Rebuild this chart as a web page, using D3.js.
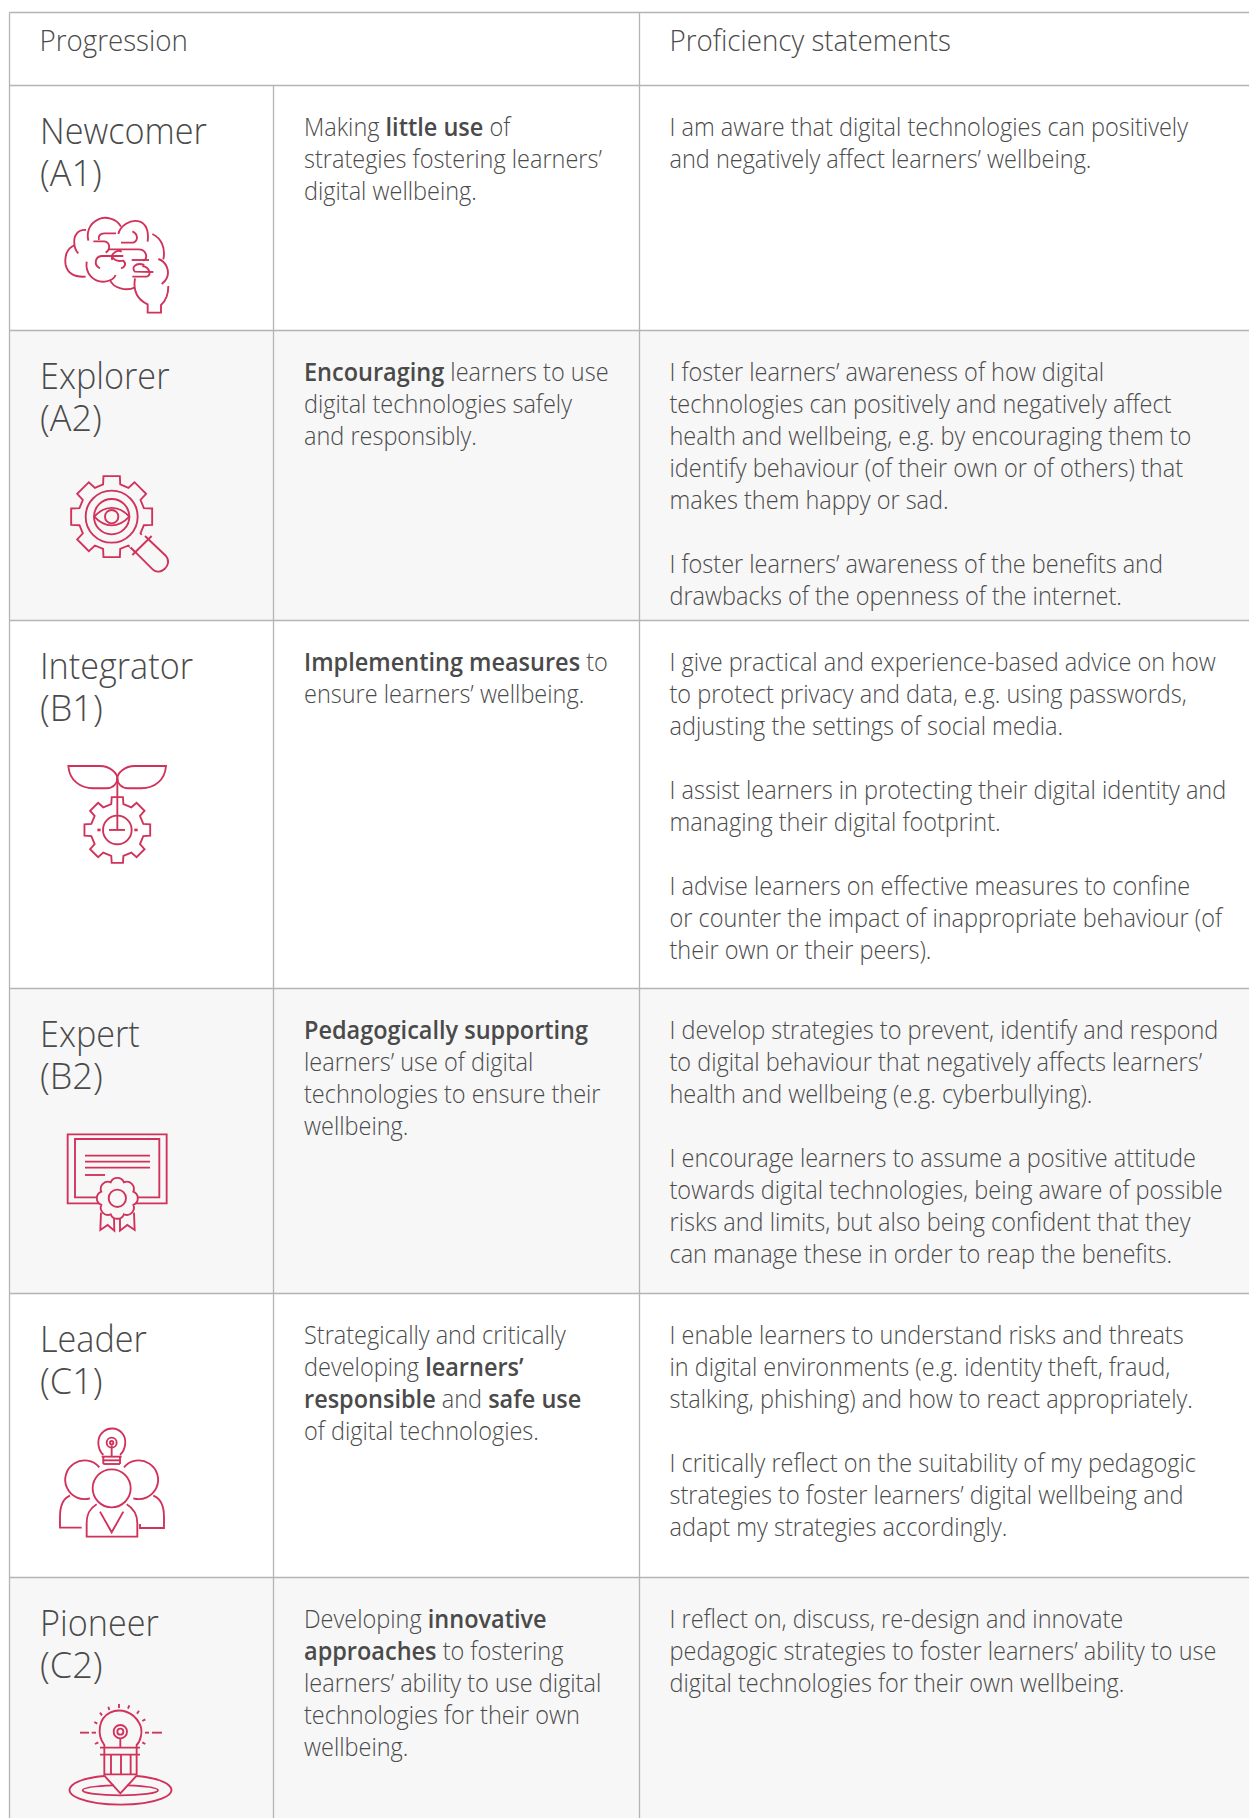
<!DOCTYPE html>
<html>
<head>
<meta charset="utf-8">
<script src="https://cdn.jsdelivr.net/npm/d3@7"></script>
<style>
  html, body { margin: 0; padding: 0; background: #fff; }
  svg { display: block; }
  text { font-family: "Open Sans", sans-serif; fill: #4a4a4a; }
  .icon * { fill: none; stroke: #d0325a; stroke-width: 5.6; }
</style>
</head>
<body>
<script>
// table content
const headers = ["Progression", "Proficiency statements"];
const levels = ["Newcomer", "Explorer", "Integrator", "Expert", "Leader", "Pioneer"];
const codes = ["(A1)", "(A2)", "(B1)", "(B2)", "(C1)", "(C2)"];
const descriptions = [
    ["Making **little use** of", "strategies fostering learners’", "digital wellbeing."],
    ["**Encouraging** learners to use", "digital technologies safely", "and responsibly."],
    ["**Implementing measures** to", "ensure learners’ wellbeing."],
    ["**Pedagogically supporting**", "learners’ use of digital", "technologies to ensure their", "wellbeing."],
    ["Strategically and critically", "developing **learners’**", "**responsible** and **safe use**", "of digital technologies."],
    ["Developing **innovative**", "**approaches** to fostering", "learners’ ability to use digital", "technologies for their own", "wellbeing."]
];
const statements = [
    ["I am aware that digital technologies can positively", "and negatively affect learners’ wellbeing."],
    ["I foster learners’ awareness of how digital", "technologies can positively and negatively affect", "health and wellbeing, e.g. by encouraging them to", "identify behaviour (of their own or of others) that", "makes them happy or sad.", "", "I foster learners’ awareness of the benefits and", "drawbacks of the openness of the internet."],
    ["I give practical and experience-based advice on how", "to protect privacy and data, e.g. using passwords,", "adjusting the settings of social media.", "", "I assist learners in protecting their digital identity and", "managing their digital footprint.", "", "I advise learners on effective measures to confine", "or counter the impact of inappropriate behaviour (of", "their own or their peers)."],
    ["I develop strategies to prevent, identify and respond", "to digital behaviour that negatively affects learners’", "health and wellbeing (e.g. cyberbullying).", "", "I encourage learners to assume a positive attitude", "towards digital technologies, being aware of possible", "risks and limits, but also being confident that they", "can manage these in order to reap the benefits."],
    ["I enable learners to understand risks and threats", "in digital environments (e.g. identity theft, fraud,", "stalking, phishing) and how to react appropriately.", "", "I critically reflect on the suitability of my pedagogic", "strategies to foster learners’ digital wellbeing and", "adapt my strategies accordingly."],
    ["I reflect on, discuss, re-design and innovate", "pedagogic strategies to foster learners’ ability to use", "digital technologies for their own wellbeing."]
];

// layout
const width = 1249, height = 1818;
const tableTop = 12.5, headerBottom = 85.5;
const rowTops = [85.5, 330.5, 620.5, 988.5, 1293.5, 1577.5];
const colLeft = 9.5, colMid = 273.5, colRight = 639.5;
const bodySize = 25, bodyLine = 32, bodySqueeze = 0.94;
const headSize = 29.5;
const nameSize = 36, nameLine = 42, nameSqueeze = 0.95;
const lineColor = "#b4b4b4", shade = "#f7f7f7";

const svg = d3.select("body").append("svg").attr("width", width).attr("height", height);
const rowY = d3.scaleOrdinal(levels, rowTops);

// shaded rows
svg.selectAll(".band")
    .data(levels.filter((d, i) => i % 2 == 1))
    .enter()
    .append("rect")
    .attr("class", "band")
    .attr("x", colLeft)
    .attr("y", d => rowY(d))
    .attr("width", width - colLeft)
    .attr("height", d => {
        const next = rowTops[levels.indexOf(d) + 1];
        return (next || height) - rowY(d);
    })
    .attr("fill", shade);

// grid lines
const hLines = [tableTop, headerBottom].concat(rowTops.slice(1));
svg.selectAll(".hline")
    .data(hLines)
    .enter()
    .append("line")
    .attr("class", "hline")
    .attr("x1", colLeft)
    .attr("x2", width)
    .attr("y1", d => d)
    .attr("y2", d => d)
    .attr("stroke", lineColor)
    .attr("stroke-width", 1.3);

const vLines = [[colLeft, tableTop], [colMid, headerBottom], [colRight, tableTop]];
svg.selectAll(".vline")
    .data(vLines)
    .enter()
    .append("line")
    .attr("class", "vline")
    .attr("x1", d => d[0])
    .attr("x2", d => d[0])
    .attr("y1", d => d[1])
    .attr("y2", height)
    .attr("stroke", lineColor)
    .attr("stroke-width", 1.3);

// one line of text, ** marks the bold runs
const writeLine = (parent, str, x, y, size) => {
    const t = parent.append("text")
        .attr("transform", "translate(" + x + "," + y + ") scale(" + bodySqueeze + ",1)")
        .attr("font-size", size || bodySize)
        .attr("font-weight", 300);
    str.split("**").forEach((part, i) => {
        if (part === "") return;
        t.append("tspan")
            .attr("font-weight", i % 2 == 1 ? 600 : 300)
            .text(part);
    });
};

writeLine(svg, headers[0], 39.5, 51, headSize);
writeLine(svg, headers[1], 669.5, 51, headSize);

levels.forEach((level, i) => {
    const top = rowY(level);
    const g = svg.append("g").attr("class", "row");
    g.append("text")
        .attr("transform", "translate(40," + (top + 58) + ") scale(" + nameSqueeze + ",1)")
        .attr("font-size", nameSize).attr("font-weight", 300).text(level);
    g.append("text")
        .attr("transform", "translate(40," + (top + 58 + nameLine) + ")")
        .attr("font-size", nameSize).attr("font-weight", 300).text(codes[i]);
    descriptions[i].forEach((line, j) => writeLine(g, line, 304, top + 50 + j * bodyLine));
    statements[i].forEach((line, j) => {
        if (line) writeLine(g, line, 669.5, top + 50 + j * bodyLine);
    });
});

// icons, each drawn in the 3x units of a crop
const icon = (x, y) => svg.append("g").attr("class", "icon").attr("transform", "translate(" + x + "," + y + ") scale(0.3333)");
const paths = (g, list) => list.forEach(d => g.append("path").attr("d", d));

// toothed wheel outline
const gearPath = (cx, cy, rOut, rIn, n, halfOut, halfIn) => {
    const pts = [];
    d3.range(n).forEach(k => {
        const a = -Math.PI / 2 + k * 2 * Math.PI / n;
        [[rIn, -halfIn], [rOut, -halfOut], [rOut, halfOut], [rIn, halfIn]].forEach(p => {
            pts.push([cx + p[0] * Math.cos(a + p[1]), cy + p[0] * Math.sin(a + p[1])]);
        });
    });
    return "M" + pts.map(p => p[0].toFixed(1) + "," + p[1].toFixed(1)).join("L") + "Z";
};

// flower outline for the rosette
const flowerPath = (cx, cy, r, n) => {
    const pts = d3.range(n).map(k => {
        const a = (k + 0.5) * 2 * Math.PI / n - Math.PI / 2;
        return [cx + r * Math.cos(a), cy + r * Math.sin(a)];
    });
    const pr = r * Math.sin(Math.PI / n) * 1.08;
    return "M" + pts[0].join(",") + pts.slice(1).concat([pts[0]]).map(p => "A" + pr + "," + pr + " 0 0 1 " + p.join(",")).join("") + "Z";
};

// brain
paths(icon(55, 210), [
    "M93 60C70 58 55 75 58 100C58 112 62 122 70 130",
    "M58 106C35 115 28 140 32 165C38 190 60 202 92 200",
    "M100 92C95 70 100 42 130 28C150 18 185 25 198 50",
    "M190 72C195 50 225 25 255 35C272 42 282 60 278 95",
    "M292 72C320 85 332 115 325 148",
    "M310 147C335 155 345 185 335 205C332 212 325 218 320 222",
    "M95 155C90 190 115 218 150 215C165 213 178 205 182 195",
    "M165 210C175 235 215 245 240 232",
    "M240 205C235 235 240 265 278 283L278 308L318 308L318 285C335 270 340 250 340 228",
    "M183 70L148 70C135 70 128 80 132 90",
    "M115 94L148 94C165 96 168 118 152 128",
    "M198 98L235 98C250 92 250 72 232 64",
    "M160 118L250 118C275 118 280 145 265 152",
    "M230 150L282 150",
    "M172 150C165 128 190 118 200 125",
    "M172 140C178 152 190 155 205 152C215 160 210 172 198 175",
    "M135 175C115 165 120 140 140 138L205 138",
    "M268 165C240 155 228 175 240 185L295 186",
    "M232 200L275 200C290 195 285 172 262 168"
]);

// magnifier with eye
const lens = icon(40, 450);
paths(lens, [gearPath(215, 200, 124, 100, 8, 0.2, 0.26)]);
lens.append("path").attr("d", "M268 290L340 360A28 28 0 0 0 385 320L312 248Z").style("fill", shade).style("stroke", "none");
paths(lens, [
    "M272 292L338 358C360 380 400 345 378 318L315 258",
    "M277 315L335 258",
    "M163 200C195 165 235 165 268 200C235 235 195 235 163 200Z"
]);
[[215, 200, 78], [215, 200, 53], [215, 200, 20]].forEach(c => lens.append("circle").attr("cx", c[0]).attr("cy", c[1]).attr("r", c[2]));

// plant on a gear
const plant = icon(40, 450);
paths(plant, [
    "M232 985C232 970 210 948 180 948L85 948C88 990 120 1015 160 1015L200 1015C220 1015 232 1000 232 985Z",
    "M232 985C232 970 254 948 284 948L378 948C375 990 344 1015 304 1015L264 1015C244 1015 232 1000 232 985Z",
    "M232 985L232 1140",
    "M207 1140L255 1140",
    gearPath(232, 1140, 100, 80, 8, 0.17, 0.23)
]);
plant.append("circle").attr("cx", 232).attr("cy", 1140).attr("r", 43);
[177, 288].forEach(x => plant.append("rect").attr("x", x - 5).attr("y", 1136).attr("width", 10).attr("height", 8).style("fill", "#d0325a").style("stroke", "none"));

// certificate
const cert = icon(40, 1110);
paths(cert, [
    "M83 73H380V280H83Z",
    "M105 87H358V262H105Z",
    "M135 137H330", "M135 155H330", "M135 173H330", "M135 195H195",
    "M183 308L181 360L203 345L223 362L222 325",
    "M282 308L284 360L262 345L240 362L240 325"
]);
cert.append("path").attr("d", flowerPath(232, 265, 52, 8)).style("fill", shade);
cert.append("circle").attr("cx", 232).attr("cy", 265).attr("r", 26);

// people with a lightbulb
const people = icon(40, 1410);
paths(people, [
    "M190 135C170 115 170 80 190 65C205 52 230 52 245 68C262 85 258 118 240 135",
    "M185 140H245", "M188 151H243", "M190 162H240", "M190 140V162", "M240 140V162",
    "M215 106V140",
    "M178 172A58 58 0 1 0 150 265",
    "M252 172A58 58 0 1 1 280 265",
    "M90 257C70 265 60 285 60 320L60 353L125 353",
    "M340 257C360 265 372 285 372 320L372 354L300 354L300 342",
    "M170 283C150 295 140 310 140 340L140 380L292 380L292 340C292 310 280 295 260 283",
    "M180 305L215 367L250 305"
]);
[[215, 98, 15], [215, 98, 5], [215, 235, 57]].forEach(c => people.append("circle").attr("cx", c[0]).attr("cy", c[1]).attr("r", c[2]));

// pencil bulb
const bulb = icon(40, 1680);
paths(bulb, [
    "M193 203L193 195C170 165 175 115 210 98C240 83 280 95 298 130C312 155 300 185 290 195L290 203",
    "M120 158H147", "M155 158H168", "M315 158H327", "M336 158H366",
    "M237 72V84", "M205 80L208 90", "M180 98L186 106", "M163 126L172 131", "M165 192L175 187",
    "M268 76L264 86", "M297 92L291 101", "M316 118L307 123", "M316 192L307 187",
    "M241 175V203",
    "M180 203H300", "M180 224H300", "M193 283H290",
    "M193 203V287", "M213 224V283", "M243 224V283", "M272 224V283", "M290 203V287",
    "M193 287L241 340L290 287",
    "M193 288A153 44 0 1 0 290 288",
    "M222 316C170 318 128 322 128 331C128 340 180 346 241 346C302 346 354 340 354 331C354 322 312 318 262 316"
]);
[[241, 155, 20], [241, 155, 9]].forEach(c => bulb.append("circle").attr("cx", c[0]).attr("cy", c[1]).attr("r", c[2]));
</script>
</body>
</html>
